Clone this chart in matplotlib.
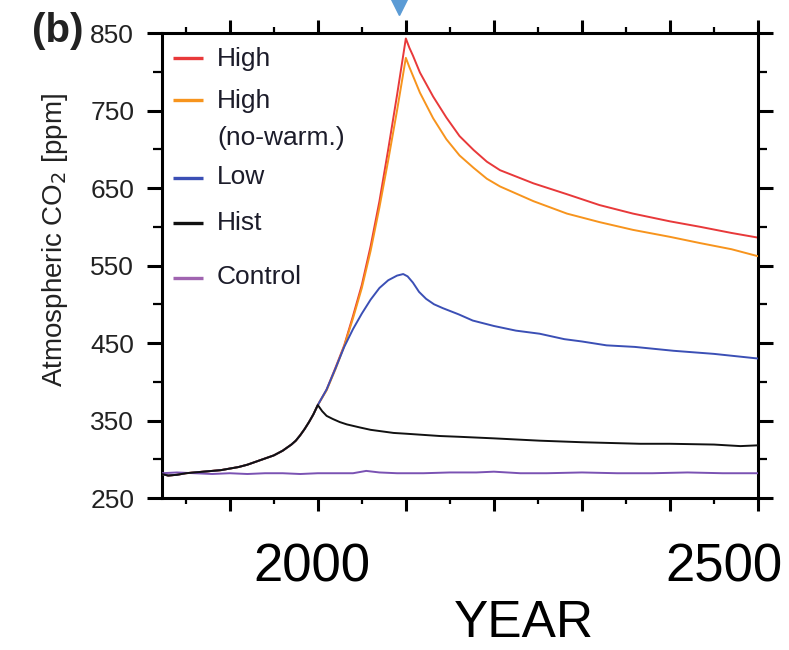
import matplotlib
matplotlib.use("Agg")
import matplotlib.pyplot as plt
import matplotlib.transforms as mtransforms
from matplotlib.ticker import MultipleLocator, FixedLocator

plt.rcParams["font.family"] = ["Liberation Sans", "DejaVu Sans"]

# Shared historical spin-up (years, CO2 in ppm)
hist_years = [1823, 1830, 1840, 1850, 1860, 1870, 1880, 1890, 1900, 1910, 1920,
              1930, 1940, 1950, 1960, 1970, 1975, 1980, 1985, 1990, 1995, 2000]
hist_co2 = [281, 279, 280, 282, 283, 284, 285, 286, 288, 290, 293,
            297, 301, 305, 311, 319, 324, 331, 339, 348, 358, 370]

# Scenario runs from 2000 onward
high_years = [2000, 2010, 2020, 2030, 2040, 2050, 2060, 2070, 2080, 2090, 2100,
              2104, 2108, 2116, 2131, 2146, 2161, 2177, 2192, 2207, 2245, 2283,
              2320, 2358, 2400, 2434, 2470, 2500]
high_co2 = [370, 390, 418, 447, 485, 525, 575, 633, 700, 770, 843,
            831, 821, 799, 768, 741, 717, 699, 684, 673, 656, 642,
            628, 617, 607, 600, 592, 586]

nowarm_years = [2000, 2010, 2020, 2030, 2040, 2050, 2060, 2070, 2080, 2090, 2100,
                2104, 2108, 2116, 2131, 2146, 2161, 2177, 2192, 2207, 2245, 2283,
                2320, 2358, 2400, 2434, 2470, 2500]
nowarm_co2 = [370, 389, 416, 446, 482, 521, 569, 625, 686, 750, 818,
              806, 795, 773, 740, 713, 692, 676, 662, 652, 633, 617,
              606, 596, 587, 579, 571, 562]

low_years = [2000, 2010, 2020, 2030, 2040, 2050, 2060, 2070, 2080, 2090, 2097,
             2102, 2108, 2115, 2123, 2132, 2142, 2160, 2176, 2200, 2225, 2252,
             2280, 2300, 2328, 2360, 2404, 2450, 2500]
low_co2 = [370, 390, 417, 445, 468, 488, 506, 521, 531, 537, 539,
           536, 528, 516, 507, 500, 495, 487, 479, 472, 466, 462,
           455, 452, 447, 445, 440, 436, 430]

histonly_years = [2000, 2005, 2010, 2017, 2025, 2033, 2048, 2060, 2086, 2100,
                  2139, 2161, 2200, 2252, 2300, 2366, 2400, 2450, 2480, 2500]
histonly_co2 = [370, 362, 356, 352, 348, 345, 341, 338, 334, 333,
                330, 329, 327, 324, 322, 320, 320, 319, 317, 318]

control_years = [1823, 1840, 1860, 1880, 1900, 1920, 1940, 1960, 1980, 2000, 2020,
                 2040, 2055, 2070, 2090, 2120, 2150, 2180, 2200, 2230, 2260, 2300,
                 2340, 2380, 2420, 2460, 2500]
control_co2 = [282, 283, 282, 281, 282, 281, 282, 282, 281, 282, 282,
               282, 285, 283, 282, 282, 283, 283, 284, 282, 282, 283,
               282, 282, 283, 282, 282]

# end of emissions marker
marker_year = 2092

ytick_major = [250, 350, 450, 550, 650, 750, 850]
ytick_minor = [300, 400, 500, 600, 700, 800]

labels = ["High", "High\n(no-warm.)", "Low", "Hist", "Control"]
colors = ["#e8393a", "#f7941d", "#3b4fb5", "#111111", "#7a52b3"]
legend_colors = ["#e8393a", "#f7941d", "#3b4fb5", "#111111", "#a064b0"]


def main() -> None:
    fig = plt.figure(figsize=(7.89, 6.5), dpi=100)
    ax = fig.add_axes([0.2053, 0.2338, 0.7554, 0.7154])

    runs = [
        (hist_years + high_years[1:], hist_co2 + high_co2[1:]),
        (hist_years + nowarm_years[1:], hist_co2 + nowarm_co2[1:]),
        (hist_years + low_years[1:], hist_co2 + low_co2[1:]),
        (hist_years + histonly_years[1:], hist_co2 + histonly_co2[1:]),
        (control_years, control_co2),
    ]
    order = [0, 1, 2, 4, 3]
    for z, i in enumerate(order):
        x, y = runs[i]
        ax.plot(x, y, color=colors[i], linewidth=1.4, zorder=2 + z)

    ax.set_xlim(1823, 2500)
    ax.set_ylim(250, 850)
    ax.xaxis.set_major_locator(MultipleLocator(100))
    ax.xaxis.set_minor_locator(MultipleLocator(50))
    ax.yaxis.set_major_locator(FixedLocator(ytick_major))
    ax.yaxis.set_minor_locator(FixedLocator(ytick_minor))

    for side in ax.spines.values():
        side.set_linewidth(2.2)

    ax.tick_params(axis="both", which="both", direction="out",
                   top=True, right=True, width=2.2, colors="black")
    ax.tick_params(axis="x", which="major", length=9.5)
    ax.tick_params(axis="x", which="minor", length=4.5, width=1.6)
    ax.tick_params(axis="y", which="major", length=11, pad=9,
                   labelsize=19, labelcolor="#222222")
    ax.tick_params(axis="y", which="minor", length=6.5, width=1.6)
    ax.tick_params(axis="x", labelbottom=False)

    # legend drawn by hand so the handle sits on the first text line
    handle_y = [57.7, 100, 177.7, 223, 278]
    text_y = [66, 108, 184, 230, 284]
    to_frac = lambda py: 1 - (py - 33) / 465
    for lab, c, hy, ty in zip(labels, legend_colors, handle_y, text_y):
        ax.plot([0.0185, 0.0688], [to_frac(hy)] * 2, color=c, linewidth=2.4,
                transform=ax.transAxes, solid_capstyle="butt")
        for k, line in enumerate(lab.split("\n")):
            ax.text(0.0923, to_frac(ty + 37 * k), line, transform=ax.transAxes,
                    fontsize=19, color="#1c1c2a", va="baseline", ha="left")

    trans = mtransforms.blended_transform_factory(ax.transData, ax.transAxes)
    ax.plot([marker_year], [1.058], marker="v", markersize=13, color="#5b9bd5",
            transform=trans, clip_on=False, linestyle="none")

    fig.text(55 / 789, 1 - 240 / 650, "Atmospheric CO$_2$ [ppm]", rotation=90,
             ha="center", va="center", fontsize=20, color="#222222")
    fig.text(83 / 789, 1 - 31 / 650, "(b)", ha="right", va="center",
             fontsize=29, fontweight="bold", color="#222222")

    fig.text(312 / 789, 1 - 582 / 650, "2000", ha="center", va="baseline",
             fontsize=38)
    fig.text(724 / 789, 1 - 582 / 650, "2500", ha="center", va="baseline",
             fontsize=38)
    fig.text(524 / 789, 1 - 637 / 650, "YEAR", ha="center", va="baseline",
             fontsize=37)

    fig.savefig("out.png", dpi=100)


if __name__ == "__main__":
    main()
